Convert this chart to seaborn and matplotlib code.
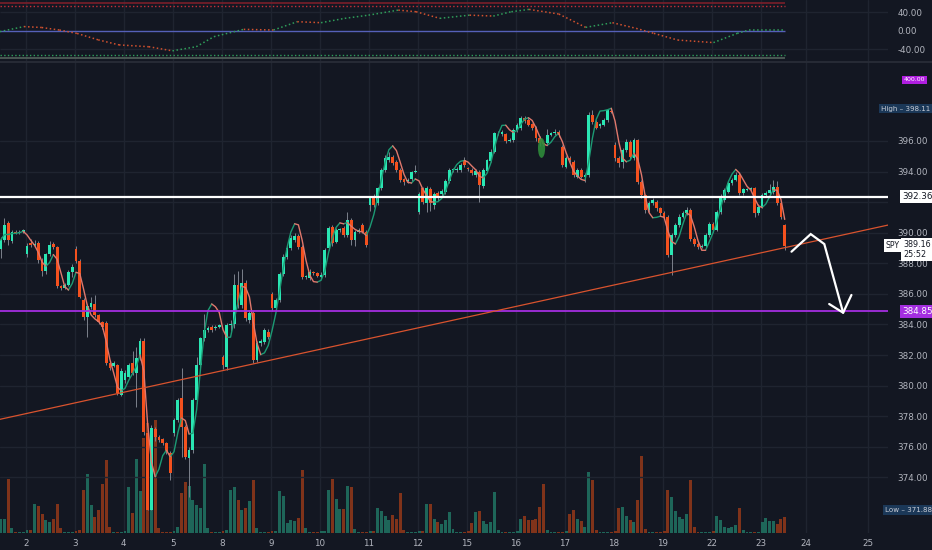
import numpy as np
import pandas as pd
import seaborn as sns
import matplotlib.pyplot as plt
from matplotlib.patches import Ellipse
import matplotlib.transforms as mtransforms

# SPY 30 min bars, 1 to 23 March (day 1 partial, day 23 in progress)
opens = [
    388.91, 389.52, 390.61, 389.47, 390.06, 390.00, 390.06,
    388.60, 389.30, 389.19, 389.30, 388.21, 387.51, 388.60, 389.26, 389.08, 386.51, 386.36, 386.58, 387.45,
    388.93, 388.15, 385.60, 384.51, 385.12, 385.34, 384.62, 384.18, 384.07, 381.46, 381.28, 381.35, 379.39,
    380.37, 380.59, 381.46, 380.85, 381.89, 382.94, 376.88, 371.88, 377.14, 376.66, 376.49, 376.23, 375.62,
    376.88, 377.75, 379.17, 377.32, 375.25, 375.80, 379.06, 381.35, 383.09, 383.64, 383.81, 383.75, 383.86,
    381.90, 381.24, 383.96, 384.00, 386.58, 385.27, 386.73, 384.29, 384.73, 381.68, 382.77, 382.87, 383.53,
    385.99, 385.05, 385.60, 387.30, 388.43, 388.98, 389.50, 389.78, 389.09, 387.12, 387.02, 387.40, 387.35,
    387.12, 387.23, 388.98, 390.35, 389.41, 390.17, 390.29, 389.85, 390.83, 389.52, 390.07, 390.50, 390.07,
    391.81, 392.36, 391.92, 392.90, 394.10, 394.75, 394.97, 394.64, 394.10, 393.51, 393.38, 393.51, 393.99,
    391.37, 392.90, 391.92, 392.86, 391.81, 392.57, 392.51, 392.68, 393.38, 394.10, 394.12, 394.10, 394.75,
    394.20, 394.10, 393.77, 393.99, 393.07, 394.03, 394.69, 395.30, 396.49, 396.43, 396.43, 395.99, 396.06,
    396.71, 396.82, 397.52, 397.37, 397.08, 396.86, 396.17, 395.84, 395.84, 396.39, 396.49, 396.60, 395.62,
    394.32, 394.86, 394.64, 393.66, 394.10, 393.66, 393.77, 397.69, 397.26, 396.99, 397.04, 397.37, 397.95,
    395.73, 394.86, 394.64, 395.41, 395.95, 394.86, 396.06, 393.34, 392.46, 391.48, 391.92, 392.03, 391.59,
    391.27, 391.05, 388.55, 389.85, 390.51, 391.05, 391.27, 391.49, 389.57, 389.27, 389.09, 389.14, 389.85,
    390.57, 390.18, 391.38, 392.14, 392.69, 393.23, 393.45, 393.78, 392.58, 392.80, 392.84, 392.90, 391.27,
    391.71, 392.47, 392.58, 392.69, 393.01, 391.92, 390.51,
]
closes = [
    389.52, 390.50, 389.52, 390.06, 390.00, 390.06, 390.17,
    389.15, 389.19, 389.26, 388.21, 387.51, 388.60, 389.19, 389.08, 386.51, 386.36, 386.58, 387.45, 387.78,
    388.15, 385.81, 384.51, 385.20, 385.42, 384.62, 384.18, 383.85, 381.46, 381.13, 381.50, 379.50, 380.98,
    380.85, 381.35, 380.85, 381.83, 382.94, 376.99, 371.88, 377.21, 376.66, 376.45, 376.23, 375.68, 374.27,
    377.75, 379.06, 377.32, 375.36, 375.80, 379.06, 381.35, 383.09, 383.64, 383.75, 383.64, 383.86, 383.96,
    381.35, 383.96, 384.00, 386.58, 385.27, 386.73, 384.40, 384.77, 381.68, 382.77, 382.90, 383.64, 383.20,
    385.05, 385.60, 387.30, 388.43, 388.98, 389.63, 389.78, 389.09, 387.12, 387.15, 387.45, 387.35, 387.20,
    387.23, 388.87, 390.28, 389.30, 390.17, 390.18, 389.85, 390.83, 389.52, 390.07, 390.18, 390.07, 389.20,
    392.25, 391.81, 392.90, 394.10, 394.86, 394.97, 394.53, 394.10, 393.44, 393.29, 393.44, 393.95, 394.03,
    392.51, 392.03, 392.90, 391.92, 392.51, 392.25, 392.73, 393.38, 394.10, 394.12, 394.16, 394.42, 394.42,
    394.16, 393.88, 394.03, 393.12, 394.10, 394.75, 395.30, 396.49, 396.52, 396.56, 395.99, 396.06, 396.71,
    397.04, 397.47, 397.30, 397.04, 396.82, 396.17, 395.84, 395.80, 396.39, 396.49, 396.60, 396.39, 394.42,
    394.86, 394.75, 393.77, 394.10, 393.66, 393.77, 397.69, 397.26, 396.86, 397.08, 397.37, 398.02, 397.90,
    394.86, 394.53, 395.41, 395.95, 394.97, 396.06, 393.34, 392.46, 391.48, 391.92, 392.14, 391.59, 391.27,
    391.05, 388.55, 389.85, 390.51, 391.05, 391.27, 391.49, 389.57, 389.27, 389.09, 389.14, 389.85, 390.57,
    390.18, 391.38, 392.36, 392.80, 393.23, 393.45, 393.78, 392.58, 392.84, 392.84, 392.90, 391.27, 391.71,
    392.47, 392.58, 392.80, 393.01, 391.92, 391.05, 389.16,
]
highs = [
    389.75, 390.93, 390.75, 390.20, 390.15, 390.15, 390.25,
    389.30, 389.60, 389.50, 389.45, 388.35, 388.70, 389.45, 389.40, 389.15, 386.60, 386.70, 387.55, 387.95,
    389.10, 388.25, 385.75, 385.35, 385.80, 385.95, 384.70, 384.25, 384.20, 381.55, 381.62, 381.45, 381.15,
    381.00, 381.50, 382.30, 382.50, 383.10, 383.15, 377.00, 377.40, 377.30, 376.80, 376.60, 376.35, 375.70,
    377.90, 379.20, 381.13, 377.45, 376.00, 379.20, 381.90, 383.20, 384.70, 383.90, 383.95, 383.95, 384.05,
    382.00, 384.10, 384.30, 387.30, 387.50, 387.60, 386.90, 384.95, 384.85, 382.95, 383.05, 383.80, 383.70,
    386.10, 385.75, 387.45, 388.60, 389.15, 389.85, 389.95, 389.90, 389.20, 387.25, 387.60, 387.50, 387.45,
    387.40, 389.00, 390.45, 390.50, 390.30, 390.30, 390.45, 391.37, 390.95, 390.20, 390.30, 390.65, 390.15,
    392.40, 392.50, 393.00, 394.20, 395.05, 395.30, 395.10, 394.75, 394.20, 393.60, 393.55, 394.05, 394.42,
    392.65, 393.00, 393.05, 393.00, 392.65, 392.70, 392.85, 393.50, 394.20, 394.25, 394.30, 394.55, 394.97,
    394.30, 394.20, 394.15, 394.10, 394.20, 394.85, 395.45, 396.60, 396.65, 396.70, 396.55, 396.20, 396.85,
    397.20, 397.60, 397.65, 397.50, 397.20, 397.00, 396.30, 395.95, 396.80, 396.60, 396.75, 396.70, 395.75,
    395.00, 395.00, 394.75, 394.25, 394.20, 393.90, 397.90, 398.00, 397.35, 397.20, 397.50, 398.11, 398.05,
    395.90, 395.00, 395.55, 396.15, 396.05, 396.20, 396.15, 393.45, 392.55, 392.05, 392.25, 392.15, 391.70,
    391.40, 391.15, 390.00, 390.65, 391.20, 391.40, 391.65, 391.60, 389.70, 389.40, 389.25, 389.95, 390.70,
    390.70, 391.50, 392.50, 392.90, 393.35, 393.60, 393.95, 393.90, 392.95, 392.95, 393.00, 393.00, 391.85,
    392.60, 392.75, 393.20, 393.45, 393.35, 392.05, 390.60,
]
lows = [
    388.35, 389.40, 389.20, 389.30, 389.90, 389.92, 390.00,
    388.40, 389.05, 389.05, 388.00, 387.20, 387.30, 388.45, 388.95, 386.40, 386.25, 386.30, 386.50, 387.10,
    388.00, 385.70, 384.30, 383.20, 385.00, 384.50, 384.05, 383.70, 381.35, 381.00, 381.20, 379.40, 379.30,
    380.20, 380.50, 380.70, 378.63, 381.70, 376.80, 371.88, 371.88, 376.40, 376.30, 376.10, 375.55, 373.83,
    376.70, 377.60, 375.36, 375.20, 372.75, 375.60, 378.90, 381.00, 382.95, 383.50, 383.50, 383.65, 383.75,
    381.10, 381.00, 383.60, 383.80, 385.10, 385.10, 384.25, 384.10, 381.50, 381.55, 382.60, 382.75, 383.05,
    384.90, 384.95, 385.50, 387.20, 388.30, 388.85, 389.40, 388.95, 387.00, 387.00, 386.90, 387.25, 387.10,
    387.00, 387.10, 388.85, 389.15, 389.30, 390.05, 389.70, 389.75, 389.20, 389.10, 389.95, 389.95, 389.05,
    391.40, 391.70, 391.80, 392.80, 394.00, 394.65, 394.40, 394.00, 393.30, 393.15, 393.25, 393.40, 393.90,
    391.25, 391.90, 391.33, 391.40, 391.55, 392.10, 392.40, 392.55, 393.25, 394.00, 394.00, 394.00, 394.30,
    394.05, 393.75, 393.65, 392.03, 392.95, 393.95, 394.60, 395.20, 396.40, 396.35, 395.85, 395.90, 395.95,
    396.60, 396.70, 397.20, 396.95, 396.70, 396.00, 395.70, 395.65, 395.75, 396.30, 396.40, 396.25, 394.30,
    394.20, 394.60, 393.65, 393.55, 393.55, 393.34, 393.65, 397.10, 396.75, 396.85, 396.95, 397.25, 397.80,
    394.70, 394.30, 394.20, 395.30, 394.85, 394.75, 393.20, 392.30, 391.30, 391.35, 391.80, 391.45, 391.10,
    390.90, 388.40, 387.24, 389.70, 390.40, 390.95, 391.15, 389.45, 389.10, 388.95, 389.00, 389.05, 389.75,
    390.05, 390.10, 391.25, 392.00, 392.60, 393.10, 393.35, 392.45, 392.45, 392.70, 392.75, 391.00, 391.15,
    391.60, 392.35, 392.45, 392.55, 391.80, 390.90, 388.90,
]
# volume, arbitrary units
volumes = [
    14, 14, 54, 5, 1, 1, 1,
    3, 3, 29, 27, 19, 13, 11, 14, 29, 5, 1, 1, 1,
    2, 3, 43, 59, 28, 16, 23, 49, 73, 6, 1, 1, 1,
    2, 46, 20, 74, 42, 95, 110, 100, 113, 5, 1, 1, 1,
    2, 6, 40, 51, 47, 33, 28, 25, 69, 5, 1, 1, 1,
    2, 3, 43, 46, 33, 23, 25, 32, 53, 5, 1, 1, 1,
    2, 2, 42, 37, 10, 13, 12, 15, 63, 5, 1, 1, 1,
    2, 2, 43, 54, 34, 24, 24, 47, 46, 4, 1, 1, 1,
    2, 2, 25, 22, 17, 13, 18, 14, 40, 3, 1, 1, 1,
    2, 2, 29, 29, 14, 11, 9, 13, 21, 4, 1, 1, 1,
    2, 10, 21, 22, 12, 9, 11, 41, 3, 1, 1, 1, 1,
    2, 14, 17, 13, 13, 14, 26, 49, 3, 1, 1, 1, 1,
    2, 19, 23, 14, 12, 6, 61, 53, 3, 1, 1, 1, 1,
    2, 25, 26, 17, 13, 11, 33, 77, 4, 1, 1, 1, 1,
    2, 43, 36, 22, 16, 14, 19, 53, 6, 1, 1, 1, 1,
    2, 17, 13, 6, 5, 6, 8, 25, 3, 1, 1, 1, 1,
    11, 15, 12, 12, 9, 14, 16,
]
day_labels = ['2', '3', '4', '5', '8', '9', '10', '11', '12', '15', '16', '17',
              '18', '19', '22', '23', '24', '25']
day_ticks = [6.7 + 13 * i for i in range(16)] + [213.6, 230.1]

# oscillator in the top pane, read at sample bars
osc_x = [-0.2, 6.2, 10.9, 15.6, 20.3, 25.9, 31.4, 39.3, 45.6, 51.9, 56.6, 64.5, 72.4,
         78.7, 85.0, 91.3, 97.6, 105.5, 110.2, 116.5, 124.4, 130.7, 135.5, 140.2,
         148.1, 155.2, 162.3, 168.6, 173.3, 179.6, 189.1, 195.4, 198.5, 208.0]
osc_v = [-2, 9, 7, 1.5, -6, -20, -31, -35, -44, -35, -13, 3, 1.5,
         19.7, 17.5, 27, 34, 45, 41.5, 27, 34, 32, 41.5, 46.6,
         36.4, 7.3, 17.5, 5.1, -5.8, -20.4, -26, -5.8, 1.5, 1.5]

# drawings on the chart
resistance = 392.36
support = 384.85
trend_x = [-0.2, 235.4]
trend_y = [377.8, 390.5]
arrow_x = [209.8, 214.9, 218.5, 223.5]
arrow_y = [388.76, 389.91, 389.26, 384.77]
head_x = [219.8, 223.5, 225.7]
head_y = [385.34, 384.77, 385.93]
last_price = 389.16
day_high = 398.11
day_low = 371.88

BG = '#131722'
GRID = '#1f2430'
TXT = '#b2b5be'
UP = '#2ae6b3'
DOWN = '#f4511e'
UP_VOL = '#1e6659'
DOWN_VOL = '#80331a'

sns.set_style('dark')
plt.rcParams['font.family'] = ['DejaVu Sans']

W, H = 932, 550
fig = plt.figure(figsize=(W / 100, H / 100), dpi=100, facecolor=BG)
plot_w = 888 / W
ax_osc = fig.add_axes([0, 1 - 61 / H, plot_w, 61 / H])
ax_vol = fig.add_axes([0, 17 / H, plot_w, 471 / H])
ax = fig.add_axes([0, 17 / H, plot_w, 471 / H], sharex=ax_vol)
ax.patch.set_visible(False)

XMIN, XMAX = -0.16, 235.4
k = np.arange(len(closes))
df = pd.DataFrame({'k': k, 'o': opens, 'h': highs, 'l': lows, 'c': closes, 'v': volumes})
df['up'] = df['c'] >= df['o']

for a in (ax_osc, ax_vol, ax):
    a.set_xlim(XMIN, XMAX)
    for s in a.spines.values():
        s.set_visible(False)
ax_osc.set_facecolor(BG)
ax_vol.set_facecolor(BG)

# grid
for t in day_ticks:
    ax_vol.axvline(t, color=GRID, lw=1, zorder=0)
    ax_osc.axvline(t, color=GRID, lw=1, zorder=0)
ax_vol.set_ylim(0, 471)
ax_vol.set_yticks([])
ax_vol.tick_params(bottom=False, labelbottom=False)
ax.set_ylim(370.37, 401.16)
price_ticks = np.arange(374, 397, 2)
for p in price_ticks:
    ax.axhline(p, color=GRID, lw=1, zorder=0)

# volume
ax_vol.bar(df['k'], df['v'], width=0.78, edgecolor='none', linewidth=0,
           color=np.where(df['up'], UP_VOL, DOWN_VOL), zorder=2)

# candles
ax.vlines(df['k'], df['l'], df['h'], color='#7c818c', lw=0.7, zorder=3)
body = (df['c'] - df['o']).abs().clip(lower=0.06)
ax.bar(df['k'], body, bottom=df[['o', 'c']].min(axis=1), width=0.74,
       edgecolor='none', linewidth=0,
       color=np.where(df['up'], UP, DOWN), zorder=4)


# hull moving average over the closes, coloured by direction
def wma(s, n):
    w = np.arange(1, n + 1, dtype=float)
    return s.rolling(n, min_periods=1).apply(
        lambda x: np.dot(x, w[-len(x):]) / w[-len(x):].sum(), raw=True)


n = 9
hma = wma(2 * wma(df['c'], n // 2) - wma(df['c'], n), int(np.sqrt(n)))
rising = hma.diff().fillna(0) >= 0
rows = []
seg = 0
for i in range(len(hma)):
    if i > 0 and rising[i] != rising[i - 1]:
        rows.append({'k': i - 1, 'ma': hma[i - 1], 'dir': 'up' if rising[i] else 'down', 'seg': seg + 1})
        seg += 1
    rows.append({'k': i, 'ma': hma[i], 'dir': 'up' if rising[i] else 'down', 'seg': seg})
ma_df = pd.DataFrame(rows)
sns.lineplot(data=ma_df, x='k', y='ma', hue='dir', units='seg', estimator=None,
             palette={'up': '#1c9a74', 'down': '#e0786c'}, lw=1, legend=False,
             ax=ax, zorder=5)

# drawings
ax.axhline(resistance, color='white', lw=1.6, zorder=6)
ax.axhline(support, color='#a42ee0', lw=1.3, zorder=6)
sns.lineplot(x=trend_x, y=trend_y, color='#d9532e', lw=0.9, ax=ax, zorder=6)
ax.plot(arrow_x, arrow_y, color='white', lw=1.6, zorder=7, solid_joinstyle='miter')
ax.plot(head_x, head_y, color='white', lw=1.6, zorder=7)
ax.add_patch(Ellipse((143.5, 395.54), 1.9, 1.3, fc='#2e8b3a', ec='none', alpha=0.9, zorder=7))
ax.set_xlabel('')
ax.set_ylabel('')

# axes text; 392.00 sits under the resistance label, as in the chart
ax.yaxis.tick_right()
ax.set_yticks(price_ticks)
ax.set_yticklabels(['' if p == 392 else f'{p:.2f}' for p in price_ticks])
ax.tick_params(axis='y', length=0, pad=7, labelsize=6.3, labelcolor=TXT)
ax.set_xticks(day_ticks)
ax.set_xticklabels(day_labels)
ax.tick_params(axis='x', length=0, pad=4, labelsize=6.3, labelcolor=TXT)

tr = mtransforms.blended_transform_factory(ax.transAxes, ax.transData)
box = dict(boxstyle='square,pad=0.25', ec='none')
ax.text(1 + 14 / 888, resistance, f'{resistance:.2f}', transform=tr, fontsize=6.3,
        color='#131722', va='center', ha='left', clip_on=False, zorder=10,
        bbox={**box, 'fc': 'white'})
ax.text(1 + 14 / 888, support, f'{support:.2f}', transform=tr, fontsize=6.3,
        color='white', va='center', ha='left', clip_on=False, zorder=10,
        bbox={**box, 'fc': '#a42ee0'})
ax.text(1 + 16 / 888, 400.0, '400.00', transform=tr, fontsize=4.5,
        color='white', va='center', ha='left', clip_on=False, zorder=10,
        bbox={**box, 'fc': '#b01ee0'})
ax.text(1 - 7 / 888, day_high, f'High – {day_high:.2f}', transform=tr, fontsize=5.1,
        color='#c8ccd6', va='center', ha='left', clip_on=False, zorder=10,
        bbox={**box, 'fc': '#1b3858'})
ax.text(1 - 3 / 888, day_low, f'Low – {day_low:.2f}', transform=tr, fontsize=5.1,
        color='#c8ccd6', va='center', ha='left', clip_on=False, zorder=10,
        bbox={**box, 'fc': '#1b3858'})
ax.text(1 - 2 / 888, last_price, 'SPY', transform=tr, fontsize=5.6,
        color='#131722', va='center', ha='left', clip_on=False, zorder=10,
        bbox={**box, 'fc': 'white'})
ax.text(1 + 15 / 888, last_price - 0.25, f'{last_price:.2f}\n25:52', transform=tr,
        fontsize=5.8, color='#131722', va='center', ha='left', clip_on=False, zorder=10,
        linespacing=1.1, bbox={**box, 'fc': 'white'})

# oscillator pane
ax_osc.set_ylim(-66.2, 67.1)
last_k = len(closes) - 1
ax_osc.hlines([60], XMIN, last_k, color='#7a1f2a', lw=1.2)
ax_osc.hlines([53], XMIN, last_k, color='#c62f3a', lw=1, linestyles=':')
ax_osc.hlines([40, -40], XMIN, XMAX, color=GRID, lw=1)
ax_osc.hlines([0], XMIN, last_k, color='#5560b8', lw=1)
ax_osc.hlines([-53], XMIN, last_k, color='#2f9e5a', lw=1, linestyles=':')
ax_osc.hlines([-60], XMIN, last_k, color='#54625c', lw=1.2)
for i in range(len(osc_x) - 1):
    col = '#2f9e5a' if osc_v[i + 1] >= osc_v[i] else '#d2512e'
    ax_osc.plot(osc_x[i:i + 2], osc_v[i:i + 2], color=col, lw=1.1, ls=':')
ax_osc.yaxis.tick_right()
ax_osc.set_yticks([40, 0, -40])
ax_osc.set_yticklabels(['40.00', '0.00', '-40.00'])
ax_osc.tick_params(axis='y', length=0, pad=7, labelsize=6.3, labelcolor=TXT)
ax_osc.tick_params(axis='x', bottom=False, labelbottom=False)
fig.add_artist(plt.Line2D([0, 1], [1 - 61.5 / H, 1 - 61.5 / H], color='#2a2e39', lw=1.2))

fig.savefig('out.png', dpi=100, facecolor=BG)
